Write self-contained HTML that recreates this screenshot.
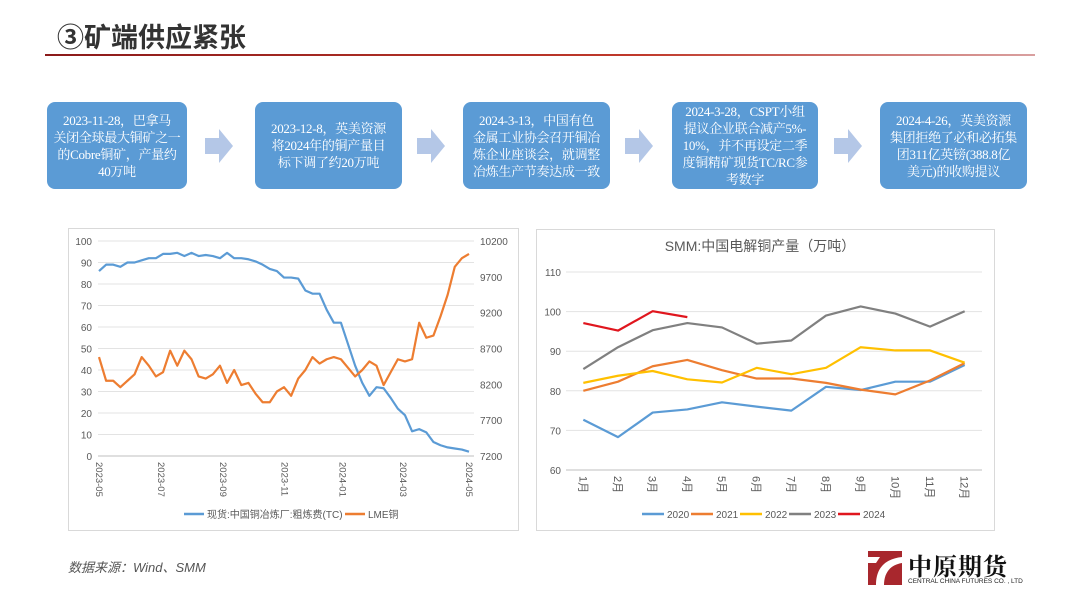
<!DOCTYPE html>
<html><head><meta charset="utf-8">
<style>
html,body{margin:0;padding:0;background:#fff;}
body{width:1080px;height:608px;overflow:hidden;position:relative;font-family:"Liberation Sans","Noto Sans CJK SC",sans-serif;}
svg text{font-family:"Liberation Sans","Noto Sans CJK SC",sans-serif;}
.box{position:absolute;top:102px;height:87px;background:#5b9bd5;border-radius:8px;color:#fff;font-family:"Liberation Serif","Noto Serif CJK SC",serif;font-size:13px;line-height:17px;text-align:center;display:flex;align-items:center;justify-content:center;padding:0 2px;box-sizing:border-box;white-space:nowrap;letter-spacing:-0.3px;}
.arrow{position:absolute;top:129px;width:28px;height:34px;}
</style></head>
<body>
<div style="position:absolute;left:57px;top:16px;font-size:27px;font-weight:bold;color:#333;font-family:'Liberation Sans','Noto Sans CJK SC',sans-serif;">③矿端供应紧张</div>
<div style="position:absolute;left:45px;top:54px;width:990px;height:2px;background:linear-gradient(90deg,#8b1a1a,#c0392b 60%,#d9a0a0);"></div>

<div class="box" style="left:47px;width:140px;"><div>2023-11-28，巴拿马<br>关闭全球最大铜矿之一<br>的Cobre铜矿，产量约<br>40万吨</div></div>
<div class="box" style="left:255px;width:147px;"><div>2023-12-8，英美资源<br>将2024年的铜产量目<br>标下调了约20万吨</div></div>
<div class="box" style="left:463px;width:147px;"><div>2024-3-13，中国有色<br>金属工业协会召开铜冶<br>炼企业座谈会，就调整<br>冶炼生产节奏达成一致</div></div>
<div class="box" style="left:672px;width:146px;"><div>2024-3-28，CSPT小组<br>提议企业联合减产5%-<br>10%，并不再设定二季<br>度铜精矿现货TC/RC参<br>考数字</div></div>
<div class="box" style="left:880px;width:147px;"><div>2024-4-26，英美资源<br>集团拒绝了必和必拓集<br>团311亿英镑(388.8亿<br>美元)的收购提议</div></div>

<svg class="arrow" style="left:205px" viewBox="0 0 28 34"><polygon points="0,9 14,9 14,0 28,17 14,34 14,25 0,25" fill="#b4c7e7"/></svg>
<svg class="arrow" style="left:417px" viewBox="0 0 28 34"><polygon points="0,9 14,9 14,0 28,17 14,34 14,25 0,25" fill="#b4c7e7"/></svg>
<svg class="arrow" style="left:625px" viewBox="0 0 28 34"><polygon points="0,9 14,9 14,0 28,17 14,34 14,25 0,25" fill="#b4c7e7"/></svg>
<svg class="arrow" style="left:834px" viewBox="0 0 28 34"><polygon points="0,9 14,9 14,0 28,17 14,34 14,25 0,25" fill="#b4c7e7"/></svg>

<svg id="chart1" style="position:absolute;left:0;top:0" width="1080" height="608"></svg>

<div style="position:absolute;left:68px;top:557px;font-size:13px;font-style:italic;color:#555;font-family:'Liberation Sans','Noto Sans CJK SC',sans-serif;">数据来源：Wind、SMM</div>

<div style="position:absolute;left:868px;top:549px;width:160px;height:42px;">
  <svg width="34" height="34" style="position:absolute;left:0;top:2px" viewBox="0 0 34 34"><rect width="34" height="34" fill="#a8272d"/><path d="M8,34 C8,18 16,8 34,6 L34,12 C22,14 16,22 16,34Z" fill="#fff"/><path d="M0,6 L12,6 L8,12 L0,12Z" fill="#fff"/></svg>
  <div style="position:absolute;left:40px;top:-2px;font-size:24px;font-weight:bold;color:#111;letter-spacing:1px;font-family:'Liberation Serif','Noto Serif CJK SC',serif;">中原期货</div>
  <div style="position:absolute;left:40px;top:29px;font-size:6.5px;color:#222;white-space:nowrap;">CENTRAL CHINA FUTURES CO. , LTD</div>
</div>

<script>
// ===== Chart 1 data =====
const tcValues = [86,89,89,88,90,90,91,92,92,94,94,94.5,93,94.5,93,93.5,93,92,94.5,92,92,91.5,90.5,89,87,86,83,83,82.5,77,75.5,75.5,68,62,62,52,42,34,28,32,31.5,27,22,19,11.5,12.5,11,6.5,5,4,3.5,3,2];
const lmeValues = [8580,8250,8250,8160,8250,8340,8580,8460,8310,8370,8670,8460,8670,8550,8310,8280,8340,8460,8220,8400,8190,8220,8070,7950,7950,8100,8160,8040,8280,8400,8580,8490,8550,8580,8550,8430,8310,8400,8520,8460,8190,8370,8550,8520,8550,9060,8850,8880,9150,9450,9840,9960,10020];
const leftTicks = [0,10,20,30,40,50,60,70,80,90,100];
const rightTicks = [7200,7700,8200,8700,9200,9700,10200];
const dateLabels = ["2023-05","2023-07","2023-09","2023-11","2024-01","2024-03","2024-05"];
const dateLabelIdx = [0,8.7,17.4,26.1,34.2,42.7,52];
// ===== Chart 2 data =====
const months = ["1月","2月","3月","4月","5月","6月","7月","8月","9月","10月","11月","12月"];
const years = ["2020","2021","2022","2023","2024"];
const s2020 = [72.7,68.3,74.5,75.3,77.1,76,75,81,80.2,82.3,82.3,86.5];
const s2021 = [80,82.3,86.2,87.8,85.2,83.1,83.1,82,80.3,79.1,82.6,87];
const s2022 = [82,83.8,85,82.9,82.1,85.8,84.2,85.8,91,90.2,90.2,87.1];
const s2023 = [85.5,91,95.3,97.1,96,91.9,92.7,99,101.3,99.5,96.2,100.1];
const s2024 = [97.1,95.2,100.1,98.6];
const yTicks2 = [60,70,80,90,100,110];

const NS="http://www.w3.org/2000/svg";
const svg=document.getElementById('chart1');
function mk(tag,attrs,parent,text){const e=document.createElementNS(NS,tag);for(const k in attrs)e.setAttribute(k,attrs[k]);if(text!==undefined)e.textContent=text;(parent||svg).appendChild(e);return e;}

// ---- Chart 1 ----
const g1=mk('g',{});


const f1=mk('rect',{x:68.5,y:228.5,width:450,height:302,fill:'#fff',stroke:'#d9d9d9'},g1);


const x0=99,x1=469,yb=456,yt=241;
const xs=i=>x0+(x1-x0)*i/(tcValues.length-1);
const yl=v=>yb-(yb-yt)*v/100;
const yr=v=>yb-(yb-yt)*(v-7200)/3000;
leftTicks.forEach(t=>{
  const l=mk('line',{x1:98,x2:474,y1:yl(t),y2:yl(t),stroke:t===0?'#bfbfbf':'#e3e3e3','stroke-width':1},g1);
  
  
  const tx=mk('text',{x:92,y:yl(t)+4,'text-anchor':'end','font-size':10,fill:'#595959'},g1,String(t));
  
  
});
rightTicks.forEach(t=>{
  const tx=mk('text',{x:480,y:yr(t)+4,'font-size':10,fill:'#595959'},g1,String(t));
  
  
});
dateLabels.forEach((d,i)=>{
  const x=xs(dateLabelIdx[i]);
  const tx=mk('text',{x:0,y:0,'font-size':9.5,fill:'#595959',transform:`translate(${x-3},462) rotate(90)`},g1,d);
  
  
});
const p1=mk('polyline',{points:tcValues.map((v,i)=>xs(i)+','+yl(v)).join(' '),fill:'none',stroke:'#5b9bd5','stroke-width':2.2,'stroke-linejoin':'round'},g1);


const p2=mk('polyline',{points:lmeValues.map((v,i)=>xs(i)+','+yr(v)).join(' '),fill:'none',stroke:'#ed7d31','stroke-width':2.2,'stroke-linejoin':'round'},g1);


const lg1=mk('line',{x1:184,x2:204,y1:514,y2:514,stroke:'#5b9bd5','stroke-width':2.5},g1);


const lt1=mk('text',{x:207,y:518,'font-size':10,fill:'#595959'},g1,'现货:中国铜冶炼厂:粗炼费(TC)');


const lg2=mk('line',{x1:345,x2:365,y1:514,y2:514,stroke:'#ed7d31','stroke-width':2.5},g1);


const lt2=mk('text',{x:368,y:518,'font-size':10,fill:'#595959'},g1,'LME铜');



// ---- Chart 2 ----
const g2=mk('g',{});


const f2=mk('rect',{x:536.5,y:229.5,width:458,height:301,fill:'#fff',stroke:'#d9d9d9'},g2);


const tt=mk('text',{x:760,y:251,'text-anchor':'middle','font-size':14,fill:'#595959'},g2,'SMM:中国电解铜产量（万吨）');


const px0=566,px1=982,py0=470,py1=272;
const band=(px1-px0)/months.length;
const cx=i=>px0+band*(i+0.5);
const cy=v=>py0-(py0-py1)*(v-60)/50;
yTicks2.forEach(t=>{
  const l=mk('line',{x1:px0,x2:px1,y1:cy(t),y2:cy(t),stroke:t===60?'#bfbfbf':'#e3e3e3','stroke-width':1},g2);
  
  
  const tx=mk('text',{x:561,y:cy(t)+4,'text-anchor':'end','font-size':10,fill:'#595959'},g2,String(t));
  
  
});
months.forEach((m,i)=>{
  const tx=mk('text',{x:0,y:0,'font-size':11,fill:'#595959',transform:`translate(${cx(i)-4},476) rotate(90)`},g2,m);
  
  
});
const series=[s2020,s2021,s2022,s2023,s2024];
const colors=['#5b9bd5','#ed7d31','#ffc000','#808080','#e0161e'];
series.forEach((s,k)=>{
  const pl=mk('polyline',{points:s.map((v,i)=>cx(i)+','+cy(v)).join(' '),fill:'none',stroke:colors[k],'stroke-width':2.2,'stroke-linejoin':'round'},g2);
  
  
});
years.forEach((y,k)=>{
  const lx=642+k*49;
  const l=mk('line',{x1:lx,x2:lx+22,y1:514,y2:514,stroke:colors[k],'stroke-width':2.5},g2);
  
  
  const tx=mk('text',{x:lx+25,y:518,'font-size':10,fill:'#595959'},g2,y);
  
  
});
</script>
</body></html>
